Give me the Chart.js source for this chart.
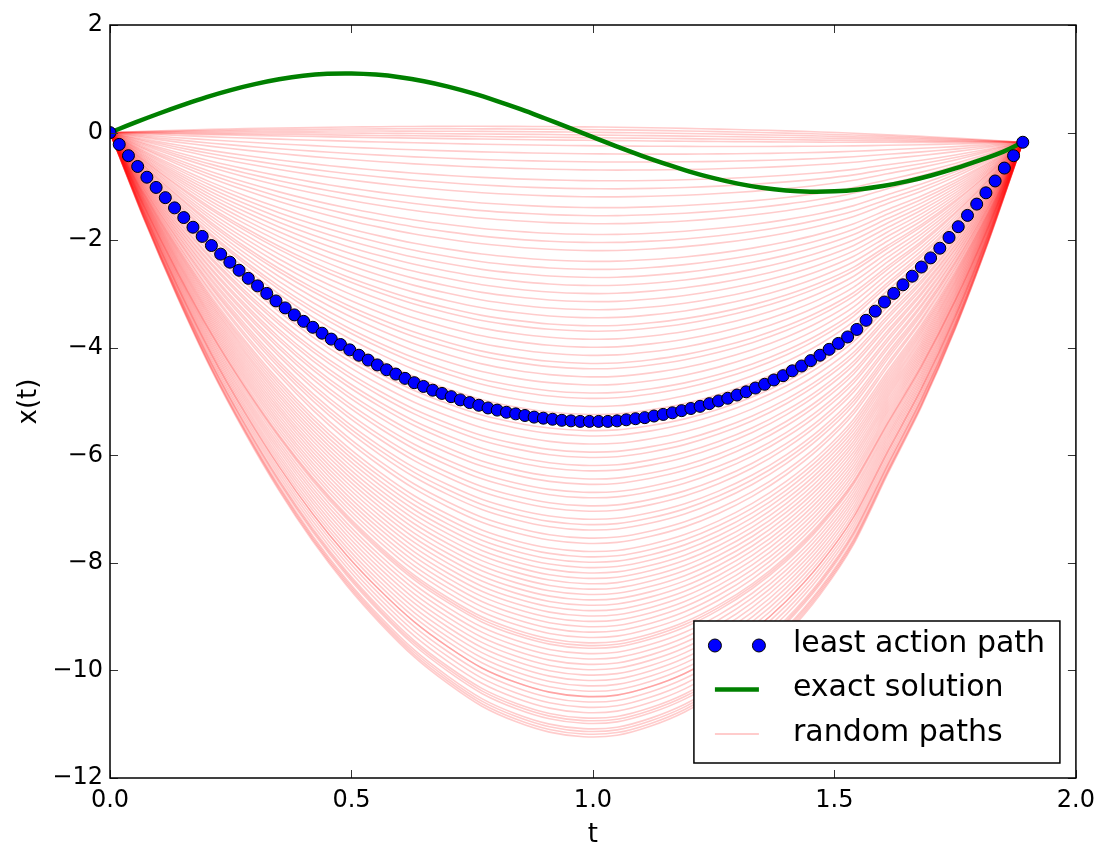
<!DOCTYPE html>
<html>
<head>
<meta charset="utf-8">
<script src="https://cdn.jsdelivr.net/npm/chart.js@4.4.1/dist/chart.umd.min.js"></script>
<style>
  html, body { margin: 0; padding: 0; background: #fff; }
  #wrap { width: 1103px; height: 846px; }
</style>
</head>
<body>
<div id="wrap"><canvas id="chart" width="1103" height="846"></canvas></div>
<script>
// end time of every path and the shared end value
const T_END = 1.89;
const PATH_END = -0.18;

// least action path, 100 samples evenly spaced on [0, T_END]
const leastActionX = [
  0, -0.22, -0.43, -0.63, -0.83, -1.02, -1.21, -1.40, -1.58, -1.76,
  -1.93, -2.10, -2.26, -2.41, -2.56, -2.71, -2.85, -2.99, -3.13, -3.26,
  -3.39, -3.51, -3.62, -3.73, -3.84, -3.94, -4.04, -4.14, -4.23, -4.32,
  -4.41, -4.49, -4.57, -4.65, -4.72, -4.79, -4.85, -4.91, -4.97, -5.02,
  -5.07, -5.12, -5.16, -5.20, -5.23, -5.26, -5.29, -5.31, -5.33, -5.35,
  -5.36, -5.37, -5.37, -5.37, -5.37, -5.36, -5.34, -5.32, -5.30, -5.27,
  -5.24, -5.21, -5.17, -5.13, -5.09, -5.04, -4.99, -4.94, -4.88, -4.82,
  -4.75, -4.68, -4.60, -4.52, -4.43, -4.34, -4.24, -4.14, -4.03, -3.92,
  -3.80, -3.66, -3.49, -3.32, -3.15, -2.99, -2.83, -2.67, -2.50, -2.33,
  -2.15, -1.95, -1.75, -1.54, -1.33, -1.12, -0.90, -0.66, -0.43, -0.18
];

// exact solution
const exactT = [
  0, 0.05, 0.10, 0.15, 0.20, 0.25, 0.30, 0.35, 0.40, 0.45,
  0.50, 0.55, 0.60, 0.65, 0.70, 0.75, 0.80, 0.85, 0.90, 0.95,
  1.00, 1.05, 1.10, 1.15, 1.20, 1.25, 1.30, 1.35, 1.40, 1.45,
  1.50, 1.55, 1.60, 1.65, 1.70, 1.75, 1.80, 1.85, 1.89
];
const exactX = [
  0, 0.18, 0.35, 0.51, 0.66, 0.79, 0.90, 0.99, 1.056, 1.092,
  1.099, 1.078, 1.03, 0.955, 0.855, 0.732, 0.59, 0.435, 0.266, 0.092,
  -0.085, -0.26, -0.427, -0.582, -0.725, -0.848, -0.95, -1.027, -1.077, -1.099,
  -1.092, -1.057, -0.995, -0.908, -0.798, -0.667, -0.517, -0.354, -0.18
];

// random paths: common bowl profile (28 samples) and the depth of each path
const pathShape = [
  0, 0.143, 0.274, 0.394, 0.499, 0.594, 0.678, 0.751, 0.814, 0.869,
  0.913, 0.950, 0.975, 0.992, 0.999, 0.996, 0.980, 0.956, 0.922, 0.879,
  0.825, 0.758, 0.673, 0.556, 0.443, 0.313, 0.164, 0
];
const pathDepth = [
  -0.20, -0.15, -0.10, -0.05, 0.00, 0.05, 0.15, 0.30, 0.45, 0.60,
  0.80, 0.95, 1.10, 1.30, 1.45, 1.60, 1.80, 1.95, 2.10, 2.30,
  2.45, 2.60, 2.75, 2.90, 3.05, 3.20, 3.35, 3.50, 3.60, 3.75,
  3.90, 4.05, 4.20, 4.30, 4.45, 4.60, 4.75, 4.85, 5.00, 5.15,
  5.30, 5.45, 5.55, 5.70, 5.85, 5.95, 6.10, 6.20, 6.35, 6.45,
  6.60, 6.70, 6.85, 6.95, 7.10, 7.20, 7.30, 7.45, 7.55, 7.70,
  7.80, 7.90, 8.00, 8.10, 8.20, 8.30, 8.40, 8.50, 8.60, 8.70,
  8.80, 8.90, 9.00, 9.10, 9.20, 9.30, 9.40, 9.45, 9.50, 9.60,
  9.70, 9.80, 9.90, 10.00, 10.10, 10.20, 10.30, 10.40, 10.40, 10.50,
  10.60, 10.70, 10.80, 10.85, 10.90, 11.00, 11.05, 11.10, 11.15
];

const xTickValues = [0, 0.5, 1, 1.5, 2];
const yTickValues = [-12, -10, -8, -6, -4, -2, 0, 2];

const FONT = "'DejaVu Sans', sans-serif";

function evenTimes(n){
  return Array.from({ length: n }, (_, i) => T_END * i / (n - 1));
}

const tLeast = evenTimes(leastActionX.length);
const tPath = evenTimes(pathShape.length);

const datasets = [];
datasets.push({
  label: 'least action path',
  data: tLeast.map((t, i) => ({ x: t, y: leastActionX[i] })),
  showLine: false,
  pointRadius: 6,
  pointBackgroundColor: '#0000ff',
  pointBorderColor: '#000',
  pointBorderWidth: 1
});
datasets.push({
  label: 'exact solution',
  data: exactT.map((t, i) => ({ x: t, y: exactX[i] })),
  showLine: true,
  borderColor: '#008000',
  borderWidth: 4.5,
  pointRadius: 0,
  tension: 0.4
});
pathDepth.forEach(d => {
  datasets.push({
    label: 'random paths',
    data: tPath.map((t, j) => ({ x: t, y: PATH_END * t / T_END - d * pathShape[j] })),
    showLine: true,
    borderColor: 'rgba(255,0,0,0.2)',
    borderWidth: 1.6,
    pointRadius: 0,
    tension: 0.25
  });
});

const fmtY = v => (v < 0 ? '\u2212' + Math.abs(v) : String(v));

// frame, inward ticks and the boxed legend, matplotlib style
const framePlugin = {
  id: 'frame',
  afterDraw(chart){
    const { ctx, chartArea: a, scales: { x, y } } = chart;
    ctx.save();
    ctx.lineWidth = 1;
    ctx.strokeStyle = '#333';
    ctx.beginPath();
    x.ticks.forEach(tk => {
      const px = Math.round(x.getPixelForValue(tk.value)) + 0.5;
      ctx.moveTo(px, a.bottom); ctx.lineTo(px, a.bottom - 8);
      ctx.moveTo(px, a.top); ctx.lineTo(px, a.top + 8);
    });
    y.ticks.forEach(tk => {
      const py = Math.round(y.getPixelForValue(tk.value)) + 0.5;
      ctx.moveTo(a.left, py); ctx.lineTo(a.left + 8, py);
      ctx.moveTo(a.right, py); ctx.lineTo(a.right - 8, py);
    });
    ctx.stroke();

    ctx.lineWidth = 1.5;
    ctx.strokeStyle = '#000';
    ctx.strokeRect(a.left, a.top, a.right - a.left, a.bottom - a.top);

    // legend
    const bw = 366, bh = 142;
    const bx = a.right - 16 - bw, by = a.bottom - 15 - bh;
    ctx.fillStyle = '#fff';
    ctx.fillRect(bx, by, bw, bh);
    ctx.strokeRect(bx, by, bw, bh);

    const rows = [by + 24.5, by + 68.5, by + 113];
    const mx0 = bx + 21, mx1 = bx + 65;
    const ds = chart.data.datasets;

    ctx.fillStyle = ds[0].pointBackgroundColor;
    ctx.strokeStyle = '#000';
    ctx.lineWidth = 1;
    [mx0, mx1].forEach(cx => {
      ctx.beginPath();
      ctx.arc(cx, rows[0], 6.5, 0, Math.PI * 2);
      ctx.fill(); ctx.stroke();
    });

    ctx.strokeStyle = ds[1].borderColor;
    ctx.lineWidth = ds[1].borderWidth;
    ctx.beginPath(); ctx.moveTo(mx0, rows[1]); ctx.lineTo(mx1, rows[1]); ctx.stroke();

    ctx.strokeStyle = ds[2].borderColor;
    ctx.lineWidth = 2;
    ctx.beginPath(); ctx.moveTo(mx0, rows[2]); ctx.lineTo(mx1, rows[2]); ctx.stroke();

    ctx.fillStyle = '#000';
    ctx.font = '30px ' + FONT;
    ctx.textBaseline = 'middle';
    ctx.textAlign = 'left';
    [ds[0].label, ds[1].label, ds[2].label].forEach((txt, i) => {
      ctx.fillText(txt, bx + 99, rows[i] - 1);
    });
    ctx.restore();
  }
};

new Chart(document.getElementById('chart'), {
  type: 'scatter',
  data: { datasets },
  plugins: [framePlugin],
  options: {
    responsive: false,
    animation: false,
    events: [],
    layout: { padding: { top: 25, right: 22.5, left: 0, bottom: 0 } },
    plugins: { legend: { display: false }, tooltip: { enabled: false } },
    scales: {
      x: {
        type: 'linear',
        min: 0, max: 2,
        afterBuildTicks: s => { s.ticks = xTickValues.map(v => ({ value: v })); },
        afterFit: s => { s.height = 68; },
        grid: { display: false, drawTicks: false },
        border: { display: false },
        ticks: {
          autoSkip: false, maxRotation: 0,
          color: '#000', padding: 8,
          font: { family: FONT, size: 24 },
          callback: v => v.toFixed(1)
        },
        title: {
          display: true, text: 't', color: '#000',
          font: { family: FONT, size: 26 },
          padding: { top: 0, bottom: -5 }
        }
      },
      y: {
        type: 'linear',
        min: -12, max: 2,
        afterBuildTicks: s => { s.ticks = yTickValues.map(v => ({ value: v })); },
        afterFit: s => { s.width = 110; },
        grid: { display: false, drawTicks: false },
        border: { display: false },
        ticks: {
          autoSkip: false,
          color: '#000', padding: 7,
          font: { family: FONT, size: 24 },
          callback: fmtY
        },
        title: {
          display: true, text: 'x(t)', color: '#000',
          font: { family: FONT, size: 26 },
          padding: { top: 14, bottom: 0 }
        }
      }
    }
  }
});
</script>
</body>
</html>
